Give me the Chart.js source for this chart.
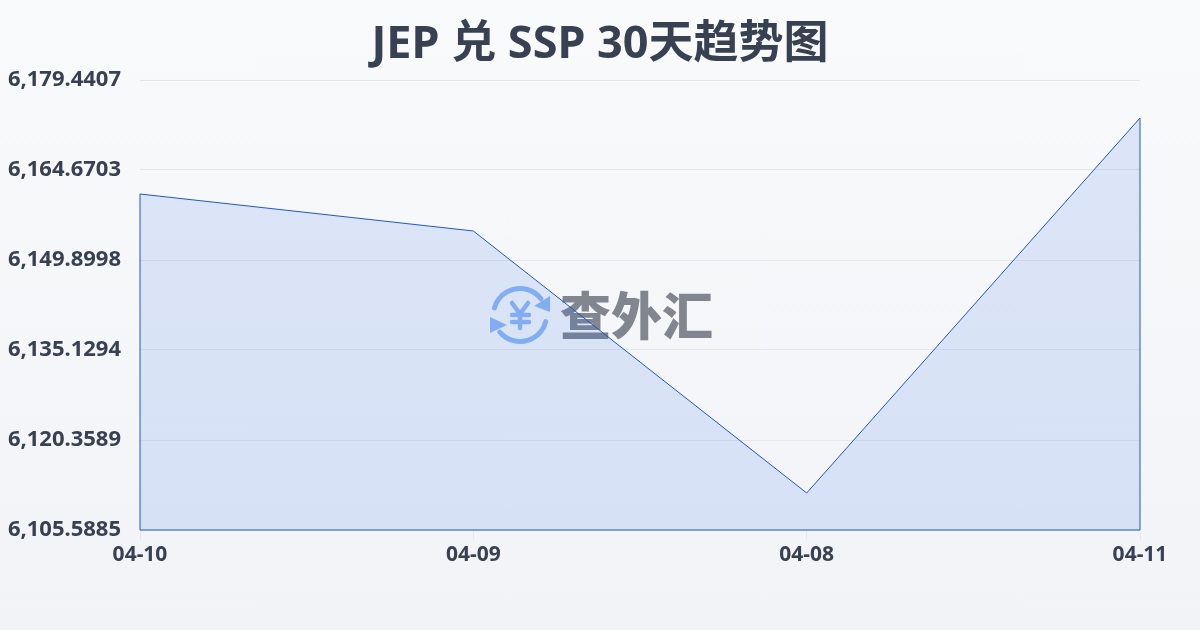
<!DOCTYPE html>
<html>
<head>
<meta charset="utf-8">
<style>
  html, body { margin: 0; padding: 0; width: 1200px; height: 630px; overflow: hidden; }
  body { background: linear-gradient(180deg, #f8fafc 0%, #f1f3f6 100%); position: relative; }
  #wrap { position: absolute; left: 0; top: 0; width: 1200px; height: 630px; }
</style>
<script src="https://cdn.jsdelivr.net/npm/chart.js@4/dist/chart.umd.min.js"></script>
</head>
<body>
<div id="wrap"><canvas id="rateChart" width="1200" height="630"></canvas></div>
<script>
const titleText = 'JEP 兑 SSP 30天趋势图';
const watermarkText = '查外汇';
const categories = ['04-10', '04-09', '04-08', '04-11'];
const rates = [6160.73, 6154.66, 6111.66, 6173.20];
const yTicks = [6105.5885, 6120.3589, 6135.1294, 6149.8998, 6164.6703, 6179.4407];

const fontFamily = '"Noto Sans", "Noto Sans CJK SC", sans-serif';
const cjkFont = '"Noto Sans CJK SC", sans-serif';

// closes the outline down the two sides and along the bottom
const outlinePlugin = {
    id: 'outline',
    afterDatasetsDraw(chart) {
        const pts = chart.getDatasetMeta(0).data;
        const first = pts[0], last = pts[pts.length - 1];
        const bottom = chart.chartArea.bottom;
        const ctx = chart.ctx;
        ctx.save();
        ctx.strokeStyle = '#2257bf';
        ctx.lineWidth = 1;
        ctx.beginPath();
        ctx.moveTo(first.x, first.y);
        ctx.lineTo(first.x, bottom);
        ctx.lineTo(last.x, bottom);
        ctx.lineTo(last.x, last.y);
        ctx.stroke();
        ctx.restore();
    }
};

// logo and name in the middle of the plot
const watermarkPlugin = {
    id: 'watermark',
    beforeDatasetsDraw(chart) {
        const ctx = chart.ctx;
        const cx = 520, cy = 315, r = 26.5;
        ctx.save();
        ctx.strokeStyle = '#8fb8f5';
        ctx.fillStyle = '#8fb8f5';
        ctx.lineWidth = 5;
        ctx.lineCap = 'round';
        ctx.beginPath();
        ctx.arc(cx, cy, r, -2.87, -0.66);
        ctx.stroke();
        ctx.beginPath();
        ctx.arc(cx, cy, r, 0.25, 2.44);
        ctx.stroke();
        ctx.beginPath();
        ctx.moveTo(550, 296); ctx.lineTo(550, 312); ctx.lineTo(534, 306);
        ctx.closePath(); ctx.fill();
        ctx.beginPath();
        ctx.moveTo(490, 333); ctx.lineTo(490, 317); ctx.lineTo(507, 325);
        ctx.closePath(); ctx.fill();
        ctx.lineWidth = 4.5;
        ctx.beginPath();
        ctx.moveTo(512, 303); ctx.lineTo(520, 314); ctx.lineTo(528, 303);
        ctx.moveTo(520, 314); ctx.lineTo(520, 328);
        ctx.moveTo(512, 315); ctx.lineTo(529, 315);
        ctx.moveTo(512, 322); ctx.lineTo(529, 322);
        ctx.stroke();
        ctx.fillStyle = 'rgba(80, 86, 98, 0.7)';
        ctx.font = '900 51px ' + cjkFont;
        ctx.textAlign = 'left';
        ctx.textBaseline = 'middle';
        ctx.fillText(watermarkText, 560, 316);
        ctx.restore();
    }
};

new Chart(document.getElementById('rateChart').getContext('2d'), {
    type: 'line',
    data: {
        labels: categories,
        datasets: [{
            data: rates,
            borderColor: '#2257bf',
            borderWidth: 1,
            backgroundColor: 'rgba(37, 99, 235, 0.13)',
            fill: 'start',
            tension: 0,
            pointRadius: 0
        }]
    },
    options: {
        responsive: false,
        animation: false,
        devicePixelRatio: 1,
        layout: { padding: 0 },
        plugins: {
            legend: { display: false },
            tooltip: { enabled: false },
            title: {
                display: true,
                text: titleText,
                color: '#374151',
                font: { family: fontFamily, size: 45, weight: 'bold' },
                padding: { top: 18, bottom: 8 }
            }
        },
        scales: {
            x: {
                offset: false,
                afterFit(axis) { axis.height = 100; },
                grid: { display: true, drawOnChartArea: false, drawTicks: true, tickLength: 10, color: '#e5e7eb' },
                border: { display: false },
                ticks: {
                    color: '#374151',
                    padding: 2,
                    maxRotation: 0,
                    autoSkip: false,
                    font: { family: fontFamily, size: 21, weight: 'bold' }
                }
            },
            y: {
                afterFit(axis) { axis.width = 140; },
                min: yTicks[0],
                max: yTicks[yTicks.length - 1],
                afterBuildTicks(axis) { axis.ticks = yTicks.map(v => ({ value: v })); },
                grid: { color: '#e5e7eb', lineWidth: 1, drawTicks: false },
                border: { display: false },
                ticks: {
                    color: '#374151',
                    padding: 19,
                    font: { family: fontFamily, size: 22, weight: 'bold' },
                    callback: v => v.toLocaleString('en-US', { minimumFractionDigits: 4, maximumFractionDigits: 4 })
                }
            },
            // empty axis, only keeps the right margin while the title stays centred on the page
            spacer: {
                position: 'right',
                afterFit(axis) { axis.width = 60; },
                grid: { display: false },
                border: { display: false },
                ticks: { display: false }
            }
        }
    },
    plugins: [watermarkPlugin, outlinePlugin]
});
</script>
</body>
</html>
